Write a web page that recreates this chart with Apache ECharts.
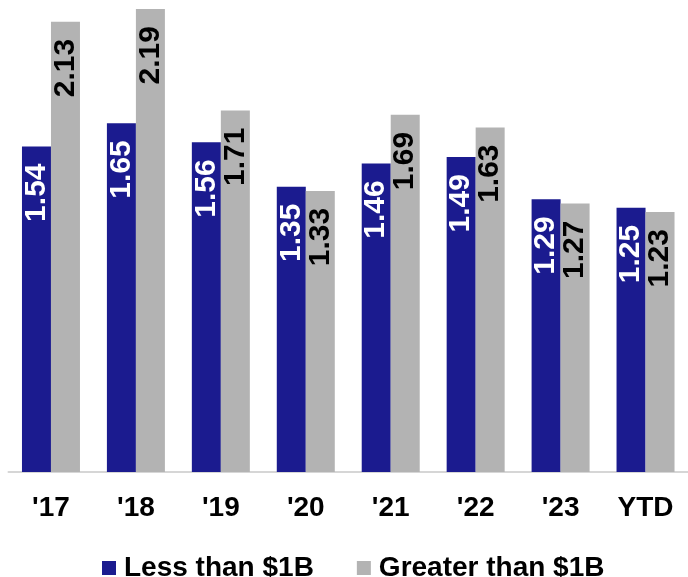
<!DOCTYPE html>
<html>
<head>
<meta charset="utf-8">
<script src="https://cdn.jsdelivr.net/npm/echarts@6/dist/echarts.min.js"></script>
<style>
  html, body { margin: 0; padding: 0; background: #ffffff; }
  #chart { width: 688px; height: 577px; }
</style>
</head>
<body>
<div id="chart"></div>
<script>
// Year buckets and the two size groups
const categories = ["'17", "'18", "'19", "'20", "'21", "'22", "'23", "YTD"];
const lessThan1B = [1.54, 1.65, 1.56, 1.35, 1.46, 1.49, 1.29, 1.25];
const greaterThan1B = [2.13, 2.19, 1.71, 1.33, 1.69, 1.63, 1.27, 1.23];
const seriesNames = ['Less than $1B', 'Greater than $1B'];

const BLUE = '#1b1b8f';
const GRAY = '#b3b3b3';
const labelFont = '"Liberation Sans Narrow", "Liberation Sans", Arial, sans-serif';
const mainFont = '"Liberation Sans", Arial, sans-serif';

function valueLabel(color) {
  return {
    show: true,
    position: 'insideTop',
    rotate: 90,
    align: 'right',
    verticalAlign: 'middle',
    distance: 17,
    color: color,
    fontFamily: labelFont,
    fontWeight: 'bold',
    fontSize: 30,
    formatter: p => p.value.toFixed(2)
  };
}

const chart = echarts.init(document.getElementById('chart'), null, { renderer: 'canvas' });
chart.setOption({
  animation: false,
  backgroundColor: '#ffffff',
  grid: { left: 8.5, right: -3, top: 7, bottom: 105, containLabel: false },
  legend: {
    left: 97,
    top: 549,
    itemWidth: 14,
    itemHeight: 14,
    itemGap: 43,
    icon: 'rect',
    textStyle: { fontFamily: mainFont, fontWeight: 'bold', fontSize: 28, color: '#000', padding: [0, 0, 0, 3] },
    data: seriesNames
  },
  xAxis: {
    type: 'category',
    data: categories,
    axisLine: { show: true, lineStyle: { color: '#d6d6d6', width: 2 } },
    axisTick: { show: false },
    axisLabel: { margin: 22, fontFamily: mainFont, fontWeight: 'bold', fontSize: 28, color: '#000' }
  },
  yAxis: {
    type: 'value',
    min: 0,
    max: 2.2,
    show: false,
    splitLine: { show: false }
  },
  series: [
    {
      name: seriesNames[0],
      type: 'bar',
      data: lessThan1B,
      barWidth: 29,
      barGap: '0%',
      itemStyle: { color: BLUE },
      label: valueLabel('#ffffff')
    },
    {
      name: seriesNames[1],
      type: 'bar',
      data: greaterThan1B,
      barWidth: 29,
      barGap: '0%',
      itemStyle: { color: GRAY },
      label: valueLabel('#000000')
    }
  ]
});
</script>
</body>
</html>
